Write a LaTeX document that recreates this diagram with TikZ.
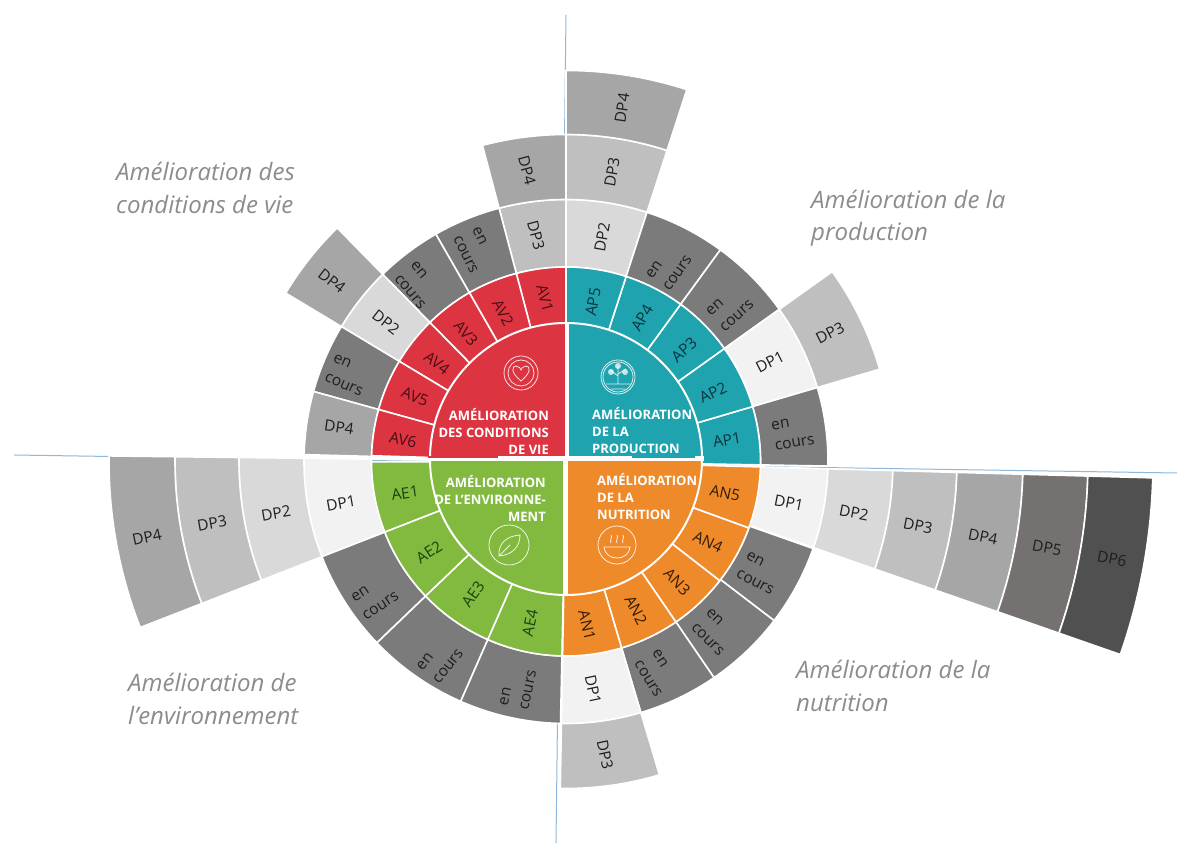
\documentclass[tikz,border=0pt]{standalone}
\usepackage{fontspec}
\setmainfont{Open Sans}
\definecolor{cRed}{HTML}{DC3440}
\definecolor{cTeal}{HTML}{1FA3AE}
\definecolor{cGreen}{HTML}{82BA40}
\definecolor{cOrange}{HTML}{EF8A2A}
\definecolor{cCours}{HTML}{7B7B7B}
\definecolor{dA}{HTML}{F2F2F2}
\definecolor{dB}{HTML}{D9D9D9}
\definecolor{dC}{HTML}{BFBFBF}
\definecolor{dD}{HTML}{A6A6A6}
\definecolor{dE}{HTML}{767171}
\definecolor{dF}{HTML}{505050}
\definecolor{axisblue}{HTML}{8FB7D9}
\definecolor{ttlgray}{HTML}{8C8C8C}
\definecolor{tRed}{HTML}{4A0E14}
\definecolor{tTeal}{HTML}{0B3540}
\definecolor{tGreen}{HTML}{1A4210}
\definecolor{tOrange}{HTML}{331D06}
\definecolor{tGray}{HTML}{1E1E1E}
\tikzset{
 seg/.style={draw=white,line width=1.6pt,line join=miter},
 lab/.style={font=\fontsize{15.5}{17}\selectfont,align=center,inner sep=0pt,text=tGray},
 crs/.style={lab,align=left,font=\fontsize{15.5}{21}\selectfont},
 ttl/.style={font=\itshape\fontsize{24}{32.5}\selectfont,text=ttlgray,align=left,anchor=west,inner sep=0pt},
 core/.style={font=\bfseries\fontsize{13}{17}\selectfont,text=white,inner sep=0pt},
 icon/.style={draw=white,line width=0.8pt,opacity=.85},
}
\newcommand{\wseg}[5]{\path[seg,fill=#5] (#1:#3) arc[start angle=#1,end angle=#2,radius=#3 pt] -- (#2:#4) arc[start angle=#2,end angle=#1,radius=#4 pt] -- cycle;}
\newcommand{\lbl}[6][lab]{\node[#1,rotate=#5] (#2) at (#3,#4) {#6};}
\begin{document}
\begin{tikzpicture}[x=1pt,y=1pt]
\useasboundingbox (0,0) rectangle (1177,843);
\fill[white] (0,0) rectangle (1177,843);
% axes
\begin{scope}[shift={(0,843)},y=-1pt]
\coordinate (vt) at (566,15);\coordinate (vb) at (556,843);
\coordinate (hl) at (14,455);\coordinate (hr) at (1177,473);
\draw[axisblue,line width=1pt] (vt)--(vb);
\draw[axisblue,line width=1pt] (hl)--(hr);
\end{scope}
\begin{scope}[shift={(566,381.5)}]
\def\Ri{130}\def\Rb{194.5}\def\Rc{262}\def\Rd{327}\def\Re{391}\def\Rf{457}\def\Rg{522}\def\Rh{587}
% outer segments, AP
\wseg{72}{90}{\Rb}{\Rc}{dB}\wseg{72}{90}{\Rc}{\Rd}{dC}\wseg{72}{90}{\Rd}{\Re}{dD}
\wseg{53.9}{72}{\Rb}{\Rc}{cCours}\wseg{35.5}{53.9}{\Rb}{\Rc}{cCours}
\wseg{16.4}{35.5}{\Rb}{\Rc}{dA}\wseg{16.4}{35.5}{\Rc}{\Rd}{dC}
\wseg{-1}{16.4}{\Rb}{\Rc}{cCours}
% AV
\wseg{90}{104.8}{\Rb}{\Rc}{dC}\wseg{90}{104.8}{\Rc}{\Rd}{dD}
\wseg{104.8}{119.8}{\Rb}{\Rc}{cCours}\wseg{119.8}{134.4}{\Rb}{\Rc}{cCours}
\wseg{134.4}{149}{\Rb}{\Rc}{dB}\wseg{134.4}{149}{\Rc}{\Rd}{dD}
\wseg{149}{164.5}{\Rb}{\Rc}{cCours}\wseg{164.5}{178.5}{\Rb}{\Rc}{dD}
% AE
\wseg{179.3}{201.3}{\Rb}{\Rc}{dA}\wseg{179.3}{201.3}{\Rc}{\Rd}{dB}\wseg{179.3}{201.3}{\Rd}{\Re}{dC}\wseg{179.3}{201.3}{\Re}{\Rf}{dD}
\wseg{201.3}{223.8}{\Rb}{\Rc}{cCours}\wseg{223.8}{246.3}{\Rb}{\Rc}{cCours}\wseg{246.3}{268.8}{\Rb}{\Rc}{cCours}
% AN
\wseg{-19.2}{-1.6}{\Rb}{\Rc}{dA}\wseg{-19.2}{-1.6}{\Rc}{\Rd}{dB}\wseg{-19.2}{-1.6}{\Rd}{\Re}{dC}\wseg{-19.2}{-1.6}{\Re}{\Rf}{dD}\wseg{-19.2}{-1.6}{\Rf}{\Rg}{dE}\wseg{-19.2}{-1.6}{\Rg}{\Rh}{dF}
\wseg{-37.4}{-19.4}{\Rb}{\Rc}{cCours}\wseg{-55.6}{-37.4}{\Rb}{\Rc}{cCours}\wseg{-73.4}{-55.6}{\Rb}{\Rc}{cCours}
\wseg{-91}{-73.4}{\Rb}{\Rc}{dA}\wseg{-91}{-73.4}{\Rc}{\Rd}{dC}
% coloured ring
\wseg{-1}{16.4}{\Ri}{\Rb}{cTeal}\wseg{16.4}{35.5}{\Ri}{\Rb}{cTeal}\wseg{35.5}{53.9}{\Ri}{\Rb}{cTeal}\wseg{53.9}{72}{\Ri}{\Rb}{cTeal}\wseg{72}{90}{\Ri}{\Rb}{cTeal}
\wseg{90}{104.8}{\Ri}{\Rb}{cRed}\wseg{104.8}{119.8}{\Ri}{\Rb}{cRed}\wseg{119.8}{134.4}{\Ri}{\Rb}{cRed}\wseg{134.4}{149}{\Ri}{\Rb}{cRed}\wseg{149}{164.5}{\Ri}{\Rb}{cRed}\wseg{164.5}{178.3}{\Ri}{\Rb}{cRed}
\wseg{180.1}{201.3}{\Ri}{\Rb}{cGreen}\wseg{201.3}{223.8}{\Ri}{\Rb}{cGreen}\wseg{223.8}{246.3}{\Ri}{\Rb}{cGreen}\wseg{246.3}{268.8}{\Ri}{\Rb}{cGreen}
\wseg{-20}{-1.6}{\Ri}{\Rb}{cOrange}\wseg{-37.8}{-20}{\Ri}{\Rb}{cOrange}\wseg{-55.6}{-37.8}{\Ri}{\Rb}{cOrange}\wseg{-73.4}{-55.6}{\Ri}{\Rb}{cOrange}\wseg{-91}{-73.4}{\Ri}{\Rb}{cOrange}
\end{scope}
\begin{scope}[shift={(566,384)}]
\def\Ra{136}
% core quadrants
\path[seg,line width=2pt,fill=cTeal] (0,0) -- (0:\Ra) arc[start angle=0,end angle=90,radius=\Ra pt] -- cycle;
\path[seg,line width=2pt,fill=cRed] (0,0) -- (90:\Ra) arc[start angle=90,end angle=180,radius=\Ra pt] -- cycle;
\path[seg,line width=2pt,fill=cGreen] (0,0) -- (180:\Ra) arc[start angle=180,end angle=270,radius=\Ra pt] -- cycle;
\path[seg,line width=2pt,fill=cOrange] (0,0) -- (270:\Ra) arc[start angle=270,end angle=360,radius=\Ra pt] -- cycle;
\end{scope}
\begin{scope}[shift={(0,843)},y=-1pt]
% white gaps of the cross
\fill[white] (564.5,322) rectangle (568.5,459);
\fill[white] (563,459) rectangle (568,596);
\fill[white] (428,456) rectangle (704,461.5);
\fill[white] (565.8,265) rectangle (567,322);
\fill[cTeal] (632,456.5) rectangle (695,458.5);
\fill[cRed] (428,456.5) rectangle (498,458);
% icons
\draw[icon] (521,373) circle[radius=17] (521,373) circle[radius=13];
\draw[icon] (521,381) .. controls (510,372) and (512,366) .. (516,366) .. controls (519,366) and (521,369) .. (521,370) .. controls (521,369) and (523,366) .. (526,366) .. controls (530,366) and (532,372) .. (521,381) -- cycle;
\draw[icon] (618,377) circle[radius=17] (618,377) circle[radius=15];
\draw[icon] (606,384) -- (630,384) (618,384) -- (618,366) (618,376) -- (610,370) (618,374) -- (626,369) (611,389) -- (625,389);
\fill[white,opacity=.75] (611,372) circle[radius=3] (625,372) circle[radius=3] (618,366) circle[radius=3];
\draw[icon] (509,545) circle[radius=20];
\draw[icon] (499,556) .. controls (498,543) and (507,536) .. (520,535) .. controls (520,547) and (512,555) .. (499,556) -- cycle (499,556) -- (510,545);
\draw[icon] (617,545) circle[radius=19];
\draw[icon] (604,547) -- (630,547) .. controls (629,555) and (623,558) .. (617,558) .. controls (611,558) and (605,555) .. (604,547) -- cycle;
\draw[icon] (611,543) .. controls (609,540) and (613,538) .. (611,535) (617,543) .. controls (615,540) and (619,538) .. (617,535) (623,543) .. controls (621,540) and (625,538) .. (623,535);
% core text
\node[core,anchor=east,align=right] (coreAV) at (549,431) {AMÉLIORATION\\DES CONDITIONS\\DE VIE};
\node[core,anchor=west,align=left] (coreAP) at (592,431) {AMÉLIORATION\\DE LA\\PRODUCTION};
\node[core,anchor=east,align=right] (coreAE) at (546,498) {AMÉLIORATION\\DE L’ENVIRONNE-\\MENT};
\node[core,anchor=west,align=left] (coreAN) at (597,497) {AMÉLIORATION\\DE LA\\NUTRITION};
% ring labels
\tikzset{ap/.style={lab,text=tTeal},av/.style={lab,text=tRed},ae/.style={lab,text=tGreen},an/.style={lab,text=tOrange}}
\lbl[ap]{ap1}{727}{440}{10}{AP1}\lbl[ap]{ap2}{713}{393}{25}{AP2}\lbl[ap]{ap3}{684}{350}{42}{AP3}\lbl[ap]{ap4}{642}{318}{60}{AP4}\lbl[ap]{ap5}{593}{302}{80}{AP5}
\lbl[av]{av1}{545}{298}{-75}{AV1}\lbl[av]{av2}{503}{313}{-62}{AV2}\lbl[av]{av3}{466}{333}{-50}{AV3}\lbl[av]{av4}{437}{363}{-37}{AV4}\lbl[av]{av5}{415}{397}{-22}{AV5}\lbl[av]{av6}{403}{440}{-11}{AV6}
\lbl[ae]{ae1}{405}{493}{8}{AE1}\lbl[ae]{ae2}{429}{552}{33}{AE2}\lbl[ae]{ae3}{473}{594}{55}{AE3}\lbl[ae]{ae4}{530}{623}{78}{AE4}
\lbl[an]{an5}{725}{493}{-12}{AN5}\lbl[an]{an4}{708}{542}{-26}{AN4}\lbl[an]{an3}{677}{582}{-47}{AN3}\lbl[an]{an2}{636}{610}{-63}{AN2}\lbl[an]{an1}{587}{625}{-77}{AN1}
% outer labels
\lbl{o1}{622}{108}{82}{DP4}\lbl{o2}{612}{172}{80}{DP3}\lbl{o3}{602}{237}{80}{DP2}
\lbl[crs]{o4}{669}{267}{55}{en\\cours}\lbl[crs]{o5}{730}{308}{42}{en\\cours}
\lbl{o6}{770}{362}{27}{DP1}\lbl{o7}{830}{333}{27}{DP3}
\lbl[crs]{o8}{793}{433}{10}{en\\cours}
\lbl{o9}{536}{235}{-75}{DP3}\lbl{o10}{527}{170}{-75}{DP4}
\lbl[crs]{o11}{475}{250}{-64}{en\\cours}\lbl[crs]{o12}{418}{285}{-50}{en\\cours}
\lbl{o13}{386}{322}{-38}{DP2}\lbl{o14}{332}{281}{-38}{DP4}
\lbl[crs]{o15}{348}{375}{-24}{en\\cours}\lbl{o16}{339}{427}{-8}{DP4}
\lbl{o17}{341}{503}{10}{DP1}\lbl{o18}{276}{513}{10}{DP2}\lbl{o19}{212}{523}{10}{DP3}\lbl{o20}{147}{537}{12}{DP4}
\lbl[crs]{o21}{375}{597}{33}{en\\cours}\lbl[crs]{o22}{440}{660}{52}{en\\cours}\lbl[crs]{o23}{518}{688}{78}{en\\cours}
\lbl{o24}{789}{503}{-11}{DP1}\lbl{o25}{854}{513}{-11}{DP2}\lbl{o26}{918}{526}{-11}{DP3}\lbl{o27}{983}{537}{-11}{DP4}\lbl{o28}{1047}{548}{-11}{DP5}\lbl{o29}{1112}{559}{-11}{DP6}
\lbl[crs]{o30}{760}{573}{-28}{en\\cours}\lbl[crs]{o31}{715}{632}{-45}{en\\cours}\lbl[crs]{o32}{657}{673}{-58}{en\\cours}
\lbl{o33}{593}{690}{-78}{DP1}\lbl{o34}{605}{755}{-78}{DP3}
% titles
\node[ttl] (t1) at (116,188) {Amélioration des\\conditions de vie};
\node[ttl] (t2) at (811,218) {Amélioration de la\\production};
\node[ttl] (t3) at (128,699) {Amélioration de\\l’environnement};
\node[ttl] (t4) at (796,686) {Amélioration de la\\nutrition};
\end{scope}
\end{tikzpicture}
\end{document}
